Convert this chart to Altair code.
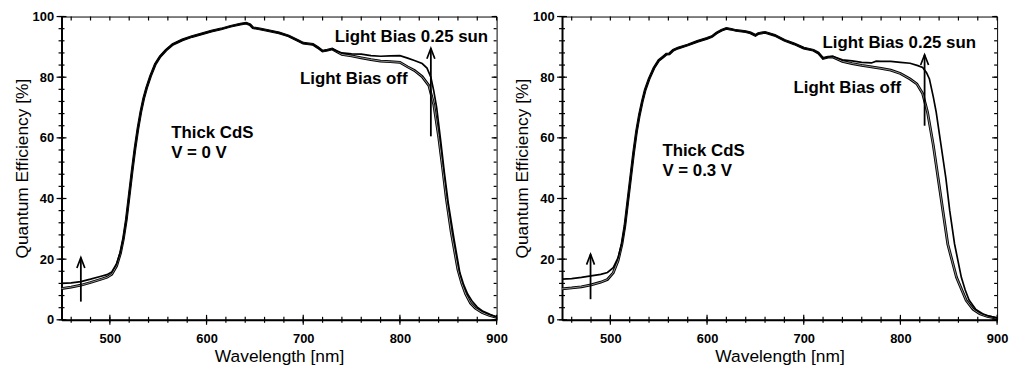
import altair as alt
import pandas as pd

# ---------------- data ----------------
# Left panel: Thick CdS, V = 0 V
L_ON_WL = [450, 460, 470, 480, 490, 497, 502, 507, 511, 514, 517, 520, 523, 526, 529, 532, 535, 538, 542, 547,
           552, 558, 565, 575, 585, 595, 605, 615, 625, 635, 641, 645, 648, 655, 665, 675, 685, 695, 700, 710,
           715, 720, 725, 730, 735, 740, 750, 760, 770, 780, 790, 800, 808, 815, 823, 828, 832, 835, 838, 842,
           846, 850, 856, 862, 866, 870, 875, 880, 886, 893, 900]
L_ON_QE = [12.0, 12.2, 12.6, 13.4, 14.3, 14.9, 15.8, 18.5, 22.5, 27.0, 33.0, 41.0, 49.0, 56.5, 63.0, 68.5, 73.0, 76.5, 80.3, 84.3,
           86.8, 88.9, 90.8, 92.3, 93.4, 94.3, 95.2, 95.9, 96.8, 97.5, 97.8, 97.3, 96.3, 95.9, 95.3, 94.6, 93.6, 92.0, 91.2, 90.8,
           89.8, 88.6, 88.9, 89.3, 88.6, 88.0, 87.7, 87.6, 87.1, 86.9, 87.0, 87.1, 86.3, 85.5, 84.5, 83.0, 80.0, 75.5, 70.0, 59.5,
           48.5, 38.5, 26.5, 15.5, 11.5, 8.5, 6.0, 4.2, 2.8, 1.8, 0.9]
L_OFF_WL = [450, 460, 470, 480, 490, 497, 502, 507, 511, 514, 517, 520, 523, 526, 529, 532, 535, 538, 542, 547,
            552, 558, 565, 575, 585, 595, 605, 615, 625, 635, 641, 645, 648, 655, 665, 675, 685, 695, 700, 710,
            715, 720, 725, 730, 735, 740, 750, 760, 770, 780, 790, 800, 808, 815, 823, 830, 835, 840, 844, 848,
            853, 860, 864, 868, 873, 878, 885, 892, 900]
L_OFF_QE = [10.3, 10.8, 11.4, 12.3, 13.3, 14.0, 15.0, 17.8, 22.0, 26.7, 33.0, 41.0, 49.0, 56.5, 63.0, 68.5, 73.0, 76.5, 80.3, 84.3,
            86.8, 88.9, 90.8, 92.3, 93.4, 94.3, 95.2, 95.9, 96.8, 97.5, 97.8, 97.3, 96.3, 95.9, 95.3, 94.6, 93.6, 92.0, 91.2, 90.8,
            89.8, 88.6, 88.9, 89.3, 88.4, 87.5, 87.0, 86.4, 85.8, 85.3, 85.1, 84.9, 83.4, 82.2, 80.2, 77.2, 71.0, 60.5, 50.5, 40.0,
            29.0, 16.5, 12.0, 8.5, 5.5, 3.8, 2.4, 1.5, 0.8]

# Right panel: Thick CdS, V = 0.3 V
R_ON_WL = [450, 460, 470, 480, 490, 497, 503, 508, 512, 515, 518, 521, 524, 527, 530, 533, 536, 540, 545, 550,
           555, 558, 561, 565, 570, 580, 590, 600, 605, 610, 615, 620, 625, 630, 640, 645, 650, 653, 660, 670,
           680, 690, 700, 710, 715, 720, 725, 730, 740, 750, 760, 770, 775, 780, 790, 800, 810, 818, 823, 827,
           830, 834, 837, 842, 847, 851, 856, 863, 867, 871, 878, 885, 892, 900]
R_ON_QE = [13.4, 13.6, 14.0, 14.5, 15.0, 15.6, 17.2, 20.5, 25.5, 31.0, 39.0, 47.0, 55.0, 62.0, 67.5, 72.0, 75.8, 79.4, 83.0, 85.5,
           86.8, 87.6, 87.7, 88.9, 89.6, 90.6, 91.8, 92.8, 93.4, 94.6, 95.5, 96.1, 95.8, 95.4, 95.0, 94.6, 93.8, 94.4, 94.8, 93.8,
           92.2, 91.0, 89.6, 88.9, 88.0, 86.2, 86.6, 86.9, 85.7, 85.4, 84.9, 84.7, 85.3, 85.2, 85.2, 84.9, 84.6, 83.8, 83.2, 81.5,
           79.4, 73.5, 68.5, 57.6, 46.7, 36.0, 25.0, 14.0, 9.8, 6.5, 3.4, 2.0, 1.2, 0.6]
R_OFF_WL = [450, 460, 470, 480, 490, 497, 503, 508, 512, 515, 518, 521, 524, 527, 530, 533, 536, 540, 545, 550,
            555, 558, 561, 565, 570, 580, 590, 600, 605, 610, 615, 620, 625, 630, 640, 645, 650, 653, 660, 670,
            680, 690, 700, 710, 715, 720, 725, 730, 740, 750, 760, 770, 780, 790, 800, 810, 817, 823, 828, 834,
            839, 844, 849, 858, 868, 875, 882, 890, 900]
R_OFF_QE = [10.2, 10.5, 10.9, 11.5, 12.4, 13.3, 15.5, 19.5, 25.0, 31.0, 39.0, 47.0, 55.0, 62.0, 67.5, 72.0, 75.8, 79.4, 83.0, 85.5,
            86.8, 87.6, 87.7, 88.9, 89.6, 90.6, 91.8, 92.8, 93.4, 94.6, 95.5, 96.1, 95.8, 95.4, 95.0, 94.6, 93.8, 94.4, 94.8, 93.8,
            92.2, 91.0, 89.6, 88.9, 88.0, 86.2, 86.6, 86.7, 85.2, 84.5, 83.9, 83.4, 82.9, 82.3, 81.2, 79.4, 77.8, 74.6, 68.5, 57.6,
            46.7, 35.8, 24.9, 14.0, 6.4, 3.5, 2.0, 1.1, 0.5]

# axis ticks
X_MAJOR = [500, 600, 700, 800, 900]
X_MINOR = list(range(460, 901, 20))
Y_MAJOR = [0, 20, 40, 60, 80, 100]
Y_MINOR = list(range(0, 101, 4))

# annotations
L_TEXT = ["Light Bias 0.25 sun", "Light Bias off", "Thick CdS", "V = 0 V"]
L_TEXT_X = [732.6, 696.7, 563.4, 563.4]
L_TEXT_Y = [93.2, 79.3, 61.7, 54.9]
R_TEXT = ["Light Bias 0.25 sun", "Light Bias off", "Thick CdS", "V = 0.3 V"]
R_TEXT_X = [719.5, 689.5, 553.8, 553.8]
R_TEXT_Y = [91.4, 76.4, 55.7, 49.1]

L_ARROW_X = [470, 832]
L_ARROW_FROM = [6.0, 60.5]
L_ARROW_TO = [20.5, 89.5]
R_ARROW_X = [479.5, 825]
R_ARROW_FROM = [6.8, 64.0]
R_ARROW_TO = [21.6, 87.4]

# ---------------- chart ----------------
FONT = "Liberation Sans"
XS = alt.Scale(domain=[450, 900], nice=False, zero=False)
YS = alt.Scale(domain=[0, 100], nice=False, zero=False)
W, H = 439, 306
X_TITLE = "Wavelength [nm]"
Y_TITLE = "Quantum Efficiency [%]"
AXIS_STYLE = dict(ticks=False, domainWidth=2, domainColor="black", grid=False, labelOverlap=False,
                  labelFont=FONT, labelFontSize=13, labelFontWeight="bold", labelColor="black",
                  titleFont=FONT, titleFontSize=17.5, titleFontWeight="normal", titleColor="black")
AX_X = alt.Axis(values=X_MAJOR, labelFlush=False, labelPadding=13, titlePadding=2, **AXIS_STYLE)
AX_Y = alt.Axis(values=Y_MAJOR, labelPadding=8, titlePadding=1, **AXIS_STYLE)


def ex(field):
    return alt.X(field, type="quantitative", scale=XS, title=X_TITLE, axis=AX_X)


def ey(field):
    return alt.Y(field, type="quantitative", scale=YS, title=Y_TITLE, axis=AX_Y)


def xticks(values, y_a, y_b):
    d = pd.DataFrame({"v": values})
    return alt.Chart(d).mark_rule(color="black", strokeWidth=1.2).encode(
        x=ex("v"), y=alt.value(y_a), y2=alt.value(y_b))


def yticks(values, x_a, x_b):
    d = pd.DataFrame({"v": values})
    return alt.Chart(d).mark_rule(color="black", strokeWidth=1.2).encode(
        y=ey("v"), x=alt.value(x_a), x2=alt.value(x_b))


def panel(on_wl, on_qe, off_wl, off_qe, texts, tx, ty, ax_x, ax_from, ax_to):
    on = pd.DataFrame({"wl": on_wl, "qe": on_qe})
    off = pd.DataFrame({"wl": off_wl, "qe": off_qe})

    off_dark = alt.Chart(off).mark_line(color="black", strokeWidth=2.8).encode(x=ex("wl"), y=ey("qe"))
    off_light = alt.Chart(off).mark_line(color="#a0a0a0", strokeWidth=0.9).encode(x=ex("wl"), y=ey("qe"))
    on_line = alt.Chart(on).mark_line(color="black", strokeWidth=1.7).encode(x=ex("wl"), y=ey("qe"))

    tdf = pd.DataFrame({"t": texts, "x": tx, "y": ty})
    txt = alt.Chart(tdf).mark_text(align="left", baseline="middle", font=FONT, fontSize=17,
                                   fontWeight="bold", color="black").encode(
        x=ex("x"), y=ey("y"), text="t:N")

    adf = pd.DataFrame({"x": ax_x, "y0": ax_from, "y1": ax_to})
    shaft = alt.Chart(adf).mark_rule(color="black", strokeWidth=1.8).encode(
        x=ex("x"), y=ey("y0"), y2="y1:Q")
    head = alt.Chart(adf).mark_point(shape="M-1,2.6L0,0L1,2.6", size=64, filled=False,
                                     color="black", strokeWidth=1.7, opacity=1).encode(
        x=ex("x"), y=ey("y1"))

    ticks = [
        xticks(X_MAJOR, H - 5, H + 5),
        xticks(X_MINOR, H - 3, H + 3),
        xticks(X_MINOR, 0, 4),
        yticks(Y_MAJOR, -5, 5),
        yticks(Y_MINOR, -3, 3),
        yticks(Y_MAJOR, W - 5, W),
        yticks(Y_MINOR, W - 3, W),
    ]

    return alt.layer(off_dark, off_light, on_line, shaft, head, txt, *ticks).properties(
        width=W, height=H)


left = panel(L_ON_WL, L_ON_QE, L_OFF_WL, L_OFF_QE, L_TEXT, L_TEXT_X, L_TEXT_Y,
             L_ARROW_X, L_ARROW_FROM, L_ARROW_TO)
right = panel(R_ON_WL, R_ON_QE, R_OFF_WL, R_OFF_QE, R_TEXT, R_TEXT_X, R_TEXT_Y,
              R_ARROW_X, R_ARROW_FROM, R_ARROW_TO)

chart = alt.hconcat(left, right, spacing=4).properties(
    padding={"left": 4, "top": 0, "right": 0, "bottom": 0}, background="white"
).configure_view(stroke="black", strokeWidth=1)

chart.save("out.html", embed_options={"renderer": "svg", "actions": False})
